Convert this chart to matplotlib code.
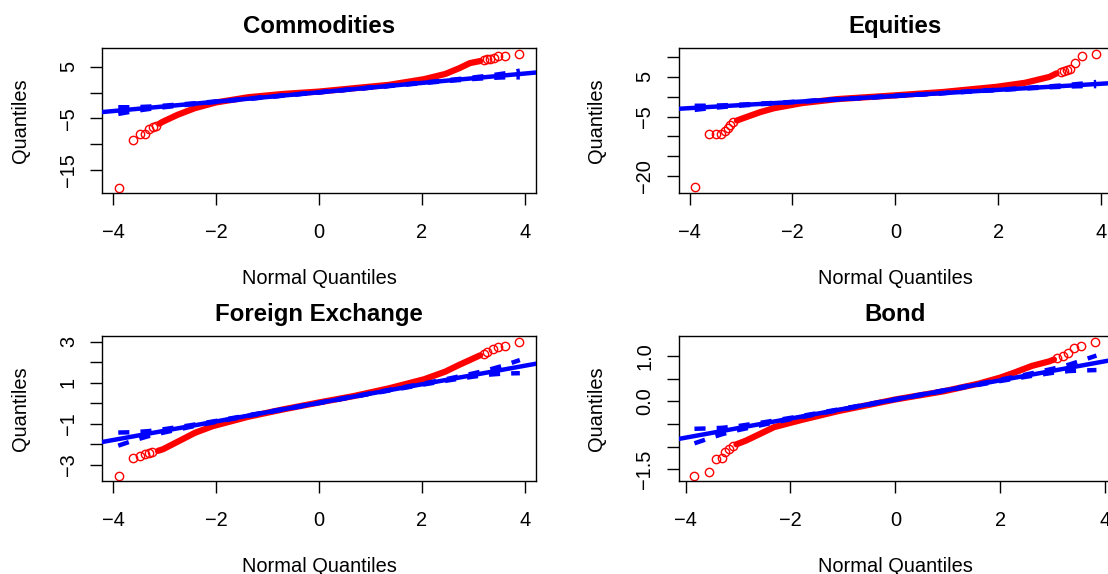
import numpy as np
import matplotlib.pyplot as plt

plt.rcParams['font.family'] = ['Liberation Sans', 'DejaVu Sans']

titles = ['Commodities', 'Equities', 'Foreign Exchange', 'Bond']
xticks = [-4, -2, 0, 2, 4]
xticklabels = ['\u22124', '\u22122', '0', '2', '4']

# Commodities
com_x = [-3.10, -3.03, -2.75, -2.41, -2.0, -1.38, -0.70, 0.0, 0.67, 1.36, 2.04, 2.45, 2.72, 2.93, 3.13]
com_y = [-6.0, -5.6, -4.3, -3.0, -1.9, -0.9, -0.26, 0.2, 0.84, 1.5, 2.6, 3.6, 4.7, 5.7, 6.1]
com_tail_x = [-3.88, -3.61, -3.48, -3.39, -3.31, -3.23, -3.17, 3.21, 3.27, 3.33, 3.39, 3.48, 3.62, 3.89]
com_tail_y = [-18.4, -9.2, -8.0, -8.0, -7.1, -6.7, -6.4, 6.3, 6.45, 6.55, 6.7, 7.1, 7.15, 7.5]
com_line = (0.06, 0.907)
com_env_x = [-3.9, -3.6, -3.3, -3.0, -2.5, -2.0, -1.0, 0.0, 1.0, 2.0, 2.5, 3.0, 3.3, 3.6, 3.9]
com_env_w = [0.65, 0.38, 0.23, 0.15, 0.08, 0.05, 0.03, 0.02, 0.03, 0.05, 0.08, 0.15, 0.23, 0.38, 0.65]
com_yticks = [5, 0, -5, -10, -15]
com_ylabels = ['5', '', '\u22125', '', '\u221215']

# Equities
equ_x = [-3.08, -2.91, -2.63, -2.36, -1.81, -1.13, 0.0, 0.93, 1.96, 2.51, 2.99, 3.13]
equ_y = [-6.0, -5.2, -3.9, -2.9, -1.6, -0.6, 0.35, 1.2, 2.5, 3.5, 5.0, 5.9]
equ_tail_x = [-3.89, -3.62, -3.48, -3.39, -3.32, -3.26, -3.21, -3.16, 3.21, 3.27, 3.33, 3.39, 3.48, 3.62, 3.89]
equ_tail_y = [-22.9, -9.5, -9.35, -9.3, -8.7, -7.9, -7.1, -6.5, 6.3, 6.5, 6.7, 6.9, 8.6, 10.2, 10.9]
equ_line = (0.2, 0.77)
equ_env_x = [-3.9, -3.6, -3.3, -3.0, -2.5, -2.0, -1.0, 0.0, 1.0, 2.0, 2.5, 3.0, 3.3, 3.6, 3.9]
equ_env_w = [0.52, 0.31, 0.19, 0.12, 0.07, 0.04, 0.02, 0.02, 0.02, 0.04, 0.07, 0.12, 0.19, 0.31, 0.52]
equ_yticks = [10, 5, 0, -5, -10, -15, -20]
equ_ylabels = ['', '5', '', '\u22125', '', '', '\u221220']

# Foreign Exchange
fx_x = [-3.13, -3.03, -2.75, -2.41, -2.07, -1.38, -0.70, 0.0, 0.67, 1.36, 2.04, 2.45, 2.72, 2.93, 3.13]
fx_y = [-2.33, -2.25, -1.89, -1.45, -1.13, -0.67, -0.31, 0.03, 0.34, 0.72, 1.16, 1.53, 1.86, 2.10, 2.33]
fx_tail_x = [-3.89, -3.61, -3.48, -3.39, -3.31, -3.24, 3.21, 3.27, 3.37, 3.48, 3.62, 3.89]
fx_tail_y = [-3.54, -2.70, -2.58, -2.49, -2.43, -2.38, 2.40, 2.50, 2.62, 2.74, 2.80, 2.99]
fx_line = (0.01, 0.453)
fx_env_x = [-3.9, -3.6, -3.3, -3.0, -2.5, -2.0, -1.0, 0.0, 1.0, 2.0, 2.5, 3.0, 3.3, 3.6, 3.9]
fx_env_w = [0.32, 0.20, 0.12, 0.08, 0.04, 0.025, 0.014, 0.011, 0.014, 0.025, 0.04, 0.08, 0.12, 0.20, 0.32]
fx_yticks = [3, 2, 1, 0, -1, -2, -3]
fx_ylabels = ['3', '', '1', '', '\u22121', '', '\u22123']

# Bond
bond_x = [-3.03, -2.85, -2.58, -2.31, -1.78, -1.10, 0.0, 0.92, 1.59, 1.99, 2.26, 2.60, 2.93, 3.02]
bond_y = [-0.95, -0.87, -0.72, -0.57, -0.41, -0.22, 0.04, 0.22, 0.39, 0.52, 0.63, 0.78, 0.88, 0.92]
bond_tail_x = [-3.83, -3.55, -3.41, -3.31, -3.25, -3.18, -3.09, 3.08, 3.19, 3.28, 3.40, 3.54, 3.81]
bond_tail_y = [-1.64, -1.57, -1.27, -1.26, -1.13, -1.06, -0.99, 0.95, 1.0, 1.07, 1.17, 1.23, 1.31]
bond_line = (0.04, 0.211)
bond_env_x = [-3.83, -3.55, -3.3, -3.0, -2.5, -2.0, -1.0, 0.0, 1.0, 2.0, 2.5, 3.0, 3.3, 3.55, 3.83]
bond_env_w = [0.16, 0.11, 0.07, 0.045, 0.025, 0.015, 0.008, 0.006, 0.008, 0.015, 0.025, 0.045, 0.07, 0.11, 0.16]
bond_yticks = [1.0, 0.5, 0.0, -0.5, -1.0, -1.5]
bond_ylabels = ['1.0', '', '0.0', '', '', '\u22121.5']

panels = [
    (com_x, com_y, com_tail_x, com_tail_y, com_line, com_env_x, com_env_w, com_yticks, com_ylabels),
    (equ_x, equ_y, equ_tail_x, equ_tail_y, equ_line, equ_env_x, equ_env_w, equ_yticks, equ_ylabels),
    (fx_x, fx_y, fx_tail_x, fx_tail_y, fx_line, fx_env_x, fx_env_w, fx_yticks, fx_ylabels),
    (bond_x, bond_y, bond_tail_x, bond_tail_y, bond_line, bond_env_x, bond_env_w, bond_yticks, bond_ylabels),
]
xlims = [(-4.21, 4.21), (-4.21, 4.21), (-4.21, 4.21), (-4.13, 4.13)]
ylims = [(-19.4, 8.62), (-24.3, 12.3), (-3.80, 3.27), (-1.76, 1.44)]

W, H = 1108, 574
bw, bh = 433.5, 145
boxes = [(102.3, 48), (678.7, 48), (102.3, 336), (678.7, 336)]

fig = plt.figure(figsize=(11.08, 5.74), dpi=100)
for i, (px, py) in enumerate(boxes):
    bx, by, tx, ty, (b, a), ex, ew, yt, yl = panels[i]
    ax = fig.add_axes([px / W, 1 - (py + bh) / H, bw / W, bh / H])

    # gesta czesc punktow jako pas, ogony jako pojedyncze kolka
    ax.plot(bx, by, color='red', lw=4.5, solid_capstyle='round', zorder=2)
    ax.plot(tx, ty, 'o', mfc='none', mec='red', ms=6, mew=1, zorder=2)

    ax.axline((0, b), slope=a, color='blue', lw=3.2, zorder=3)
    ex = np.array(ex)
    ew = np.array(ew)
    srodek = b + a * ex
    ax.plot(ex, srodek + ew, color='blue', lw=3.2, ls=(0, (2.5, 2.5)), zorder=3)
    ax.plot(ex, srodek - ew, color='blue', lw=3.2, ls=(0, (2.5, 2.5)), zorder=3)

    ax.set_xlim(*xlims[i])
    ax.set_ylim(*ylims[i])
    ax.set_xticks(xticks, xticklabels)
    ax.set_yticks(yt, yl)
    for lbl in ax.get_yticklabels():
        lbl.set_rotation(90)
        lbl.set_va('center')
    ax.tick_params(direction='out', length=8.6, width=1, labelsize=14.4)
    ax.tick_params(axis='x', pad=12.7)
    ax.tick_params(axis='y', pad=9)
    for s in ax.spines.values():
        s.set_linewidth(1)

    ax.set_title(titles[i], fontsize=17.3, fontweight='bold', pad=10.6)
    ax.set_xlabel('Normal Quantiles', fontsize=14.4, labelpad=19.7)
    ax.set_ylabel('Quantiles', fontsize=14.4, labelpad=21)

fig.savefig('out.png', dpi=100)
